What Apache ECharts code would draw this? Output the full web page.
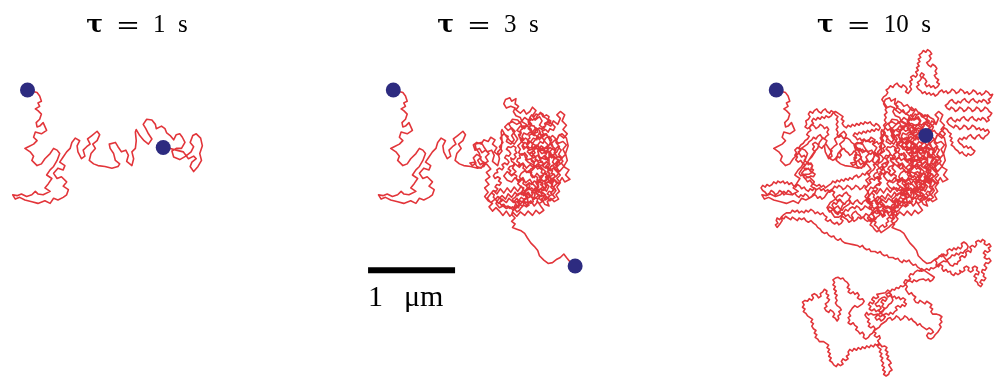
<!DOCTYPE html>
<html>
<head>
<meta charset="utf-8">
<script src="https://cdn.jsdelivr.net/npm/echarts@6/dist/echarts.min.js"></script>
<style>html,body{margin:0;background:#fff}#chart{width:996px;height:382px}</style>
</head>
<body>
<div id="chart"></div>
<script>
// particle position in µm relative to its starting point (y grows downwards)
// 0 - 1 s
const seg1 = [[0.00,0.00],[0.11,0.03],[0.14,0.07],[0.16,0.13],[0.12,0.15],[0.14,0.19],[0.09,0.22],[0.12,0.24],[0.16,0.28],[0.14,0.34],[0.10,0.38],[0.11,0.43],[0.14,0.42],[0.18,0.38],[0.22,0.47],[0.16,0.51],[0.09,0.49],[0.07,0.55],[0.11,0.59],[0.07,0.63],[0.01,0.66],[-0.03,0.68],[0.03,0.72],[0.07,0.77],[0.05,0.82],[0.11,0.88],[0.16,0.86],[0.20,0.80],[0.26,0.74],[0.30,0.68],[0.34,0.70],[0.37,0.74],[0.34,0.82],[0.30,0.89],[0.26,0.93],[0.22,0.99],[0.28,1.03],[0.24,1.09],[0.20,1.14],[0.26,1.18],[0.18,1.22],[0.12,1.21],[0.09,1.18],[0.05,1.22],[-0.01,1.24],[-0.07,1.21],[-0.12,1.23],[-0.17,1.22],[-0.14,1.27],[-0.09,1.25],[-0.03,1.28],[0.05,1.30],[0.12,1.32],[0.20,1.29],[0.26,1.32],[0.30,1.26],[0.35,1.28],[0.41,1.25],[0.45,1.22],[0.47,1.16],[0.41,1.12],[0.45,1.07],[0.39,1.01],[0.34,1.03],[0.30,0.97],[0.35,0.91],[0.41,0.93],[0.43,0.88],[0.37,0.84],[0.41,0.78],[0.45,0.72],[0.49,0.68],[0.51,0.61],[0.55,0.56],[0.60,0.59],[0.57,0.65],[0.58,0.72],[0.62,0.80],[0.66,0.77],[0.64,0.70],[0.68,0.66],[0.72,0.63],[0.69,0.57],[0.74,0.53],[0.80,0.48],[0.83,0.52],[0.80,0.59],[0.75,0.63],[0.78,0.68],[0.73,0.74],[0.71,0.82],[0.76,0.86],[0.81,0.88],[0.89,0.89],[0.97,0.91],[1.04,0.89],[1.06,0.86],[1.01,0.82],[0.99,0.74],[0.95,0.68],[0.94,0.63],[1.01,0.61],[1.04,0.66],[1.08,0.72],[1.13,0.70],[1.16,0.76],[1.14,0.83],[1.20,0.88],[1.22,0.80],[1.20,0.72],[1.24,0.68],[1.25,0.59],[1.24,0.49],[1.25,0.46],[1.29,0.53],[1.34,0.59],[1.39,0.63],[1.43,0.57],[1.39,0.51],[1.36,0.45],[1.33,0.40],[1.37,0.34],[1.43,0.35],[1.47,0.40],[1.48,0.45],[1.54,0.42],[1.58,0.45],[1.60,0.50],[1.64,0.53],[1.68,0.58],[1.71,0.52],[1.75,0.51],[1.78,0.55],[1.81,0.61],[1.77,0.68],[1.71,0.68],[1.66,0.71],[1.68,0.78],[1.75,0.81],[1.82,0.77],[1.88,0.72],[1.91,0.66],[1.87,0.61],[1.90,0.53],[1.94,0.51],[1.99,0.56],[2.01,0.65],[1.98,0.74],[2.00,0.82],[1.96,0.89],[1.91,0.95],[1.87,0.89],[1.89,0.84],[1.94,0.80],[1.91,0.77],[1.85,0.80],[1.79,0.72],[1.71,0.70],[1.64,0.68],[1.56,0.67]];
// 1 - 3 s
const seg2 = [[1.53,0.63],[1.56,0.59],[1.52,0.56],[1.47,0.60],[1.45,0.54],[1.47,0.50],[1.42,0.47],[1.46,0.42],[1.51,0.45],[1.53,0.40],[1.48,0.37],[1.46,0.32],[1.41,0.30],[1.38,0.25],[1.40,0.21],[1.35,0.19],[1.30,0.21],[1.27,0.16],[1.29,0.11],[1.34,0.09],[1.36,0.13],[1.41,0.10],[1.40,0.16],[1.44,0.19],[1.41,0.23],[1.46,0.27],[1.50,0.23],[1.53,0.28],[1.57,0.25],[1.60,0.20],[1.64,0.24],[1.60,0.30],[1.63,0.35],[1.68,0.31],[1.71,0.36],[1.68,0.41],[1.73,0.45],[1.76,0.39],[1.81,0.42],[1.84,0.36],[1.89,0.40],[1.92,0.33],[1.88,0.29],[1.92,0.25],[1.97,0.29],[1.94,0.36],[1.99,0.41],[1.95,0.46],[2.00,0.51],[1.96,0.56],[1.91,0.52],[1.88,0.58],[1.83,0.53],[1.79,0.57],[1.76,0.51],[1.71,0.55],[1.68,0.50],[1.64,0.57],[1.60,0.62],[1.65,0.66],[1.61,0.71],[1.56,0.74],[1.61,0.79],[1.66,0.76],[1.69,0.81],[1.74,0.76],[1.78,0.80],[1.81,0.74],[1.86,0.78],[1.83,0.84],[1.88,0.89],[1.93,0.85],[1.97,0.90],[2.02,0.93],[1.98,0.99],[2.03,1.04],[1.97,1.07],[1.94,1.02],[1.90,1.09],[1.85,1.04],[1.82,1.11],[1.86,1.15],[1.81,1.20],[1.86,1.25],[1.80,1.29],[1.76,1.24],[1.72,1.30],[1.67,1.26],[1.71,1.21],[1.66,1.17],[1.72,1.13],[1.76,1.18],[1.79,1.12],[1.74,1.07],[1.79,1.02],[1.74,0.97],[1.70,1.03],[1.65,0.97],[1.62,1.02],[1.57,0.96],[1.62,0.91],[1.57,0.87],[1.53,0.91],[1.49,0.85],[1.45,0.90],[1.40,0.86],[1.37,0.91],[1.41,0.95],[1.36,0.99],[1.31,0.95],[1.27,1.00],[1.31,1.05],[1.36,1.07],[1.40,1.02],[1.44,1.07],[1.49,1.02],[1.52,1.08],[1.57,1.04],[1.60,1.09],[1.64,1.13],[1.60,1.18],[1.55,1.13],[1.51,1.18],[1.47,1.12],[1.43,1.18],[1.39,1.13],[1.35,1.19],[1.31,1.14],[1.27,1.20],[1.23,1.15],[1.19,1.21],[1.15,1.17],[1.11,1.22],[1.08,1.26],[1.12,1.31],[1.17,1.27],[1.21,1.32],[1.25,1.27],[1.30,1.31],[1.33,1.26],[1.38,1.31],[1.42,1.26],[1.46,1.33],[1.50,1.28],[1.53,1.34],[1.58,1.29],[1.62,1.35],[1.66,1.30],[1.70,1.36],[1.73,1.40],[1.68,1.44],[1.64,1.40],[1.60,1.46],[1.55,1.41],[1.51,1.46],[1.46,1.42],[1.42,1.47],[1.38,1.43],[1.34,1.47],[1.30,1.41],[1.26,1.46],[1.22,1.41],[1.18,1.37],[1.14,1.41],[1.10,1.36],[1.14,1.32],[1.09,1.29],[1.05,1.24],[1.09,1.19],[1.05,1.14],[1.10,1.10],[1.06,1.05],[1.11,1.01],[1.07,0.96],[1.12,0.92],[1.08,0.87],[1.04,0.84],[1.00,0.87],[0.97,0.82],[1.01,0.78],[0.96,0.75],[0.92,0.79],[0.95,0.85],[0.91,0.88],[0.88,0.85],[0.93,0.84],[0.96,0.89],[1.01,0.91],[1.04,0.86],[1.09,0.83],[1.06,0.78],[1.10,0.74],[1.06,0.70],[1.02,0.73],[0.99,0.68],[0.94,0.70],[0.92,0.64],[0.96,0.61],[1.01,0.63],[1.04,0.58],[1.09,0.60],[1.12,0.55],[1.17,0.58],[1.14,0.63],[1.19,0.67],[1.16,0.72],[1.21,0.76],[1.25,0.71],[1.22,0.66],[1.26,0.61],[1.23,0.56],[1.27,0.51],[1.32,0.54],[1.30,0.60],[1.35,0.63],[1.39,0.58],[1.36,0.53],[1.40,0.48],[1.36,0.44],[1.32,0.47],[1.28,0.43],[1.32,0.39],[1.37,0.37],[1.42,0.40],[1.47,0.37],[1.51,0.32],[1.55,0.35],[1.59,0.40],[1.55,0.45],[1.60,0.49],[1.64,0.44],[1.68,0.47],[1.70,0.53],[1.74,0.60],[1.78,0.64],[1.74,0.68],[1.70,0.65],[1.67,0.70],[1.71,0.74],[1.76,0.71],[1.80,0.67],[1.85,0.70],[1.89,0.66],[1.93,0.70],[1.90,0.75],[1.94,0.79],[1.98,0.75],[1.95,0.69],[1.99,0.64],[1.95,0.60],[1.90,0.62],[1.86,0.58],[1.82,0.62],[1.84,0.67],[1.79,0.73],[1.79,0.85],[1.75,0.89],[1.79,0.94],[1.84,0.91],[1.88,0.95],[1.92,0.99],[1.88,1.03],[1.92,1.08],[1.88,1.13],[1.91,1.18],[1.87,1.22],[1.90,1.27],[1.85,1.30],[1.81,1.26],[1.77,1.30],[1.79,1.35],[1.74,1.33],[1.71,1.27],[1.75,1.22],[1.70,1.18],[1.74,1.14],[1.69,1.10],[1.73,1.06],[1.68,1.04],[1.64,1.08],[1.67,1.13],[1.63,1.19],[1.67,1.23],[1.62,1.27],[1.58,1.23],[1.55,1.19],[1.50,1.23],[1.47,1.19],[1.43,1.23],[1.40,1.19],[1.36,1.25],[1.32,1.21],[1.29,1.27],[1.25,1.23],[1.21,1.27],[1.18,1.32],[1.22,1.37],[1.26,1.35],[1.30,1.38],[1.34,1.36],[1.38,1.40],[1.42,1.37],[1.44,1.33],[1.49,1.35],[1.51,1.30],[1.55,1.31],[1.54,1.26],[1.58,1.24],[1.61,1.27],[1.63,1.22],[1.60,1.18],[1.64,1.16],[1.67,1.19],[1.69,1.15],[1.73,1.17],[1.76,1.13],[1.74,1.09],[1.78,1.07],[1.81,1.09],[1.83,1.05],[1.80,1.01],[1.84,0.98],[1.87,1.01],[1.90,0.97],[1.88,0.93],[1.84,0.91],[1.81,0.94],[1.78,0.90],[1.80,0.86],[1.76,0.84],[1.73,0.87],[1.71,0.83],[1.67,0.85],[1.65,0.81],[1.62,0.84],[1.59,0.81],[1.60,0.76],[1.63,0.73],[1.60,0.69],[1.56,0.70],[1.53,0.66],[1.50,0.69],[1.48,0.65],[1.51,0.61],[1.55,0.63],[1.58,0.60],[1.61,0.56],[1.65,0.58],[1.66,0.54],[1.70,0.56],[1.73,0.52],[1.71,0.48],[1.75,0.46],[1.78,0.49],[1.80,0.45],[1.84,0.47],[1.86,0.43],[1.83,0.40],[1.79,0.37],[1.76,0.33],[1.72,0.31],[1.70,0.27],[1.66,0.29],[1.64,0.33],[1.60,0.35],[1.57,0.32],[1.55,0.37],[1.57,0.41],[1.62,0.42],[1.64,0.47],[1.61,0.51],[1.57,0.49],[1.54,0.52],[1.50,0.50],[1.48,0.54],[1.50,0.58],[1.46,0.62],[1.43,0.65],[1.46,0.69],[1.44,0.73],[1.48,0.76],[1.51,0.73],[1.54,0.77],[1.52,0.81],[1.55,0.84],[1.59,0.86],[1.63,0.88],[1.66,0.92],[1.69,0.89],[1.72,0.92],[1.75,0.95],[1.72,0.99],[1.68,1.01],[1.70,1.06],[1.66,1.08],[1.62,1.06],[1.59,1.10],[1.56,1.08],[1.53,1.12],[1.56,1.16],[1.59,1.14],[1.62,1.17],[1.66,1.21],[1.70,1.24],[1.74,1.22],[1.77,1.26],[1.80,1.23],[1.84,1.21],[1.87,1.17],[1.84,1.13],[1.88,1.09],[1.86,1.06],[1.82,1.03],[1.79,1.06],[1.77,1.02],[1.80,0.98],[1.77,0.95],[1.82,0.88],[1.86,0.86],[1.89,0.82],[1.92,0.86],[1.95,0.83],[1.92,0.79],[1.88,0.77],[1.85,0.73],[1.87,0.69],[1.83,0.66],[1.80,0.62],[1.82,0.58],[1.79,0.54],[1.75,0.56],[1.72,0.62],[1.69,0.60],[1.66,0.64],[1.69,0.69],[1.73,0.70],[1.76,0.74],[1.74,0.78],[1.78,0.82],[1.74,0.85],[1.70,0.88],[1.66,0.86],[1.62,0.90],[1.58,0.92],[1.55,0.96],[1.51,0.94],[1.47,0.97],[1.45,1.01],[1.47,1.05],[1.43,1.09],[1.46,1.12],[1.50,1.14],[1.48,1.18],[1.52,1.21],[1.55,1.25],[1.51,1.28],[1.47,1.25],[1.44,1.29],[1.40,1.31],[1.42,1.35],[1.39,1.39],[1.41,1.36],[1.44,1.37],[1.45,1.34],[1.43,1.31],[1.46,1.29],[1.49,1.31],[1.50,1.27],[1.53,1.26],[1.52,1.23],[1.55,1.21],[1.57,1.24],[1.60,1.22],[1.59,1.19],[1.62,1.16],[1.65,1.18],[1.64,1.14],[1.67,1.12],[1.66,1.09],[1.69,1.07],[1.72,1.09],[1.71,1.12],[1.74,1.14],[1.77,1.11],[1.76,1.08],[1.79,1.06],[1.81,1.09],[1.84,1.07],[1.83,1.03],[1.86,1.01],[1.85,0.98],[1.82,0.97],[1.83,0.94],[1.80,0.92],[1.81,0.89],[1.84,0.88],[1.86,0.91],[1.89,0.89],[1.88,0.86],[1.91,0.84],[1.90,0.81],[1.87,0.80],[1.85,0.77],[1.82,0.79],[1.80,0.76],[1.81,0.73],[1.78,0.71],[1.76,0.74],[1.73,0.73],[1.74,0.70],[1.71,0.68],[1.69,0.71],[1.66,0.69],[1.67,0.66],[1.64,0.64],[1.62,0.67],[1.59,0.66],[1.60,0.63],[1.58,0.60],[1.55,0.61],[1.54,0.58],[1.57,0.56],[1.56,0.53],[1.59,0.51],[1.62,0.53],[1.63,0.50],[1.66,0.49],[1.65,0.46],[1.68,0.44],[1.71,0.46],[1.72,0.43],[1.75,0.42],[1.74,0.39],[1.77,0.37],[1.80,0.39],[1.81,0.36],[1.78,0.34],[1.79,0.31],[1.76,0.29],[1.73,0.31],[1.72,0.28],[1.69,0.26],[1.67,0.29],[1.64,0.28],[1.62,0.31],[1.59,0.29],[1.57,0.32],[1.58,0.35],[1.55,0.37],[1.56,0.40],[1.53,0.42],[1.51,0.40],[1.48,0.42],[1.49,0.45],[1.46,0.47],[1.47,0.50],[1.44,0.52],[1.45,0.55],[1.48,0.57],[1.47,0.60],[1.50,0.62],[1.49,0.65],[1.52,0.67],[1.55,0.66],[1.56,0.69],[1.54,0.72],[1.57,0.74],[1.60,0.73],[1.61,0.76],[1.64,0.78],[1.63,0.81],[1.66,0.83],[1.69,0.81],[1.70,0.84],[1.73,0.86],[1.72,0.89],[1.75,0.91],[1.78,0.89],[1.79,0.92],[1.77,0.95],[1.80,0.97],[1.78,1.00],[1.75,1.01],[1.76,1.04],[1.73,1.06],[1.70,1.04],[1.68,1.07],[1.65,1.05],[1.66,1.02],[1.63,1.00],[1.60,1.02],[1.58,0.99],[1.59,0.96],[1.56,0.94],[1.53,0.96],[1.52,0.93],[1.49,0.91],[1.50,0.88],[1.47,0.86],[1.44,0.88],[1.45,0.85],[1.42,0.83],[1.43,0.80],[1.46,0.79],[1.45,0.76],[1.48,0.74],[1.51,0.76],[1.52,0.79],[1.55,0.81],[1.58,0.80],[1.59,0.83],[1.62,0.85],[1.61,0.88],[1.64,0.90],[1.67,0.88],[1.68,0.91],[1.71,0.93],[1.70,0.96],[1.73,0.98],[1.76,0.97],[1.77,1.00],[1.80,1.02],[1.82,1.05],[1.80,1.08],[1.83,1.10],[1.81,1.13],[1.84,1.16],[1.82,1.19],[1.79,1.18],[1.77,1.21],[1.80,1.23],[1.78,1.26],[1.75,1.28],[1.73,1.25],[1.70,1.27],[1.71,1.30],[1.68,1.32],[1.65,1.30],[1.66,1.27],[1.63,1.25],[1.60,1.27],[1.61,1.30],[1.58,1.32],[1.55,1.30],[1.56,1.34],[1.53,1.36],[1.50,1.34],[1.47,1.37],[1.45,1.40],[1.42,1.42],[1.40,1.39],[1.37,1.36],[1.34,1.38],[1.32,1.35],[1.29,1.36],[1.27,1.33],[1.24,1.34],[1.22,1.31],[1.25,1.29],[1.23,1.26],[1.20,1.24],[1.18,1.27],[1.15,1.25],[1.16,1.22],[1.13,1.20],[1.15,1.17],[1.18,1.18],[1.20,1.15],[1.17,1.13],[1.19,1.10],[1.22,1.11],[1.24,1.08],[1.21,1.06],[1.23,1.03],[1.20,1.01],[1.17,1.03],[1.15,1.00],[1.17,0.97],[1.20,0.96],[1.19,0.93],[1.22,0.91],[1.25,0.93],[1.27,0.90],[1.25,0.87],[1.28,0.85],[1.31,0.87],[1.33,0.84],[1.31,0.81],[1.28,0.79],[1.30,0.76],[1.33,0.77],[1.35,0.74],[1.33,0.71],[1.30,0.69],[1.32,0.66],[1.35,0.67],[1.38,0.65],[1.41,0.67],[1.40,0.70],[1.42,0.73],[1.39,0.75],[1.41,0.78],[1.38,0.81],[1.35,0.79],[1.36,0.83],[1.39,0.85],[1.38,0.88],[1.34,0.89],[1.32,0.92],[1.35,0.94],[1.33,0.97],[1.36,1.00],[1.39,0.98],[1.42,1.00],[1.41,1.03],[1.44,1.05],[1.47,1.03],[1.50,1.06],[1.49,1.09],[1.52,1.11],[1.55,1.09],[1.57,1.12],[1.56,1.15],[1.53,1.17],[1.51,1.20],[1.48,1.22],[1.45,1.20],[1.42,1.22],[1.40,1.25],[1.37,1.27],[1.38,1.30],[1.41,1.32],[1.39,1.36],[1.36,1.45],[1.40,1.49],[1.36,1.53],[1.40,1.56],[1.37,1.60],[1.42,1.62],[1.47,1.64],[1.51,1.67],[1.54,1.72],[1.58,1.78],[1.62,1.82],[1.66,1.87],[1.68,1.93],[1.73,1.98],[1.78,2.02],[1.83,2.01],[1.88,1.97],[1.92,1.95],[1.96,1.91],[1.99,1.95],[2.03,2.00],[2.06,2.04],[2.09,2.05]];
// 3 - 10 s
const seg3 = [[2.11,2.02],[2.14,2.03],[2.15,2.00],[2.18,1.98],[2.17,1.95],[2.20,1.93],[2.23,1.95],[2.25,1.92],[2.24,1.89],[2.27,1.87],[2.30,1.89],[2.31,1.86],[2.29,1.83],[2.32,1.81],[2.35,1.83],[2.37,1.80],[2.36,1.77],[2.39,1.75],[2.42,1.77],[2.44,1.74],[2.47,1.76],[2.46,1.79],[2.49,1.81],[2.52,1.79],[2.54,1.82],[2.51,1.84],[2.53,1.87],[2.50,1.89],[2.47,1.87],[2.45,1.90],[2.48,1.92],[2.46,1.95],[2.49,1.97],[2.52,1.96],[2.54,1.99],[2.51,2.02],[2.48,2.01],[2.46,2.04],[2.49,2.07],[2.47,2.10],[2.44,2.09],[2.43,2.12],[2.46,2.14],[2.45,2.17],[2.48,2.19],[2.46,2.22],[2.43,2.21],[2.41,2.24],[2.44,2.26],[2.42,2.29],[2.39,2.27],[2.38,2.24],[2.35,2.22],[2.37,2.19],[2.34,2.17],[2.36,2.14],[2.39,2.15],[2.40,2.12],[2.37,2.10],[2.38,2.07],[2.35,2.05],[2.32,2.07],[2.33,2.10],[2.30,2.12],[2.27,2.10],[2.28,2.07],[2.25,2.05],[2.22,2.07],[2.23,2.10],[2.20,2.12],[2.17,2.10],[2.18,2.13],[2.15,2.15],[2.12,2.13],[2.10,2.16],[2.07,2.14],[2.06,2.11],[2.03,2.12],[2.01,2.09],[1.98,2.11],[1.96,2.08],[1.97,2.05],[1.94,2.03],[1.92,2.06],[1.89,2.04],[1.90,2.01],[1.88,1.98],[1.91,1.96],[1.93,1.93],[1.96,1.94],[1.98,1.91],[2.01,1.93],[2.03,1.90],[2.02,1.87],[2.05,1.85],[2.08,1.87],[2.10,1.84],[2.13,1.86],[2.15,1.83],[2.18,1.85],[2.20,1.82],[2.19,1.79],[2.22,1.77],[2.25,1.79],[2.27,1.82],[2.26,1.85],[2.23,1.87],[2.21,1.90],[2.18,1.89],[2.16,1.92],[2.13,1.90],[2.11,1.93],[2.08,1.92],[2.06,1.95],[2.03,1.97],[2.01,2.00],[1.98,1.99],[1.95,2.01],[1.92,2.03],[1.89,2.06],[1.86,2.08],[1.83,2.07],[1.81,2.10],[1.78,2.08],[1.75,2.10],[1.72,2.08],[1.70,2.11],[1.67,2.10],[1.64,2.12],[1.62,2.15],[1.59,2.14],[1.57,2.17],[1.59,2.20],[1.56,2.22],[1.53,2.21],[1.51,2.24],[1.53,2.27],[1.50,2.29],[1.47,2.28],[1.45,2.31],[1.42,2.30],[1.40,2.33],[1.37,2.32],[1.35,2.35],[1.32,2.33],[1.29,2.36],[1.27,2.34],[1.24,2.37],[1.22,2.35],[1.19,2.38],[1.21,2.41],[1.18,2.43],[1.15,2.41],[1.13,2.44],[1.16,2.46],[1.14,2.49],[1.11,2.47],[1.09,2.50],[1.12,2.52],[1.10,2.55],[1.13,2.57],[1.16,2.55],[1.18,2.58],[1.21,2.56],[1.23,2.59],[1.26,2.57],[1.28,2.54],[1.25,2.52],[1.27,2.49],[1.24,2.47],[1.26,2.44],[1.29,2.46],[1.31,2.43],[1.28,2.41],[1.25,2.42],[1.22,2.44],[1.20,2.47],[1.17,2.49],[1.19,2.52],[1.22,2.51],[1.24,2.54],[1.21,2.57],[1.24,2.60],[1.27,2.62],[1.30,2.60],[1.33,2.62],[1.35,2.59],[1.38,2.61],[1.40,2.58],[1.43,2.56],[1.41,2.53],[1.44,2.51],[1.47,2.53],[1.49,2.50],[1.52,2.52],[1.54,2.49],[1.51,2.47],[1.53,2.44],[1.50,2.42],[1.47,2.44],[1.45,2.41],[1.42,2.43],[1.40,2.40],[1.37,2.42],[1.35,2.39],[1.32,2.41],[1.30,2.38],[1.33,2.36],[1.36,2.38],[1.38,2.45],[1.36,2.48],[1.33,2.50],[1.31,2.53],[1.28,2.55],[1.26,2.58],[1.23,2.60],[1.20,2.62],[1.17,2.65],[1.19,2.68],[1.22,2.66],[1.24,2.69],[1.27,2.67],[1.29,2.64],[1.26,2.62],[1.23,2.64],[1.20,2.61],[1.18,2.60],[1.15,2.62],[1.12,2.60],[1.09,2.62],[1.07,2.59],[1.05,2.62],[1.07,2.65],[1.10,2.67],[1.08,2.70],[1.11,2.72],[1.09,2.75],[1.12,2.77],[1.15,2.75],[1.17,2.78],[1.15,2.81],[1.18,2.83],[1.16,2.86],[1.19,2.88],[1.22,2.86],[1.23,2.89],[1.20,2.92],[1.22,2.95],[1.19,2.97],[1.21,3.00],[1.24,3.02],[1.22,3.05],[1.25,3.07],[1.23,3.10],[1.26,3.12],[1.24,3.15],[1.27,3.18],[1.25,3.21],[1.28,3.23],[1.26,3.26],[1.29,3.28],[1.27,3.31],[1.30,3.33],[1.33,3.31],[1.34,3.28],[1.37,3.26],[1.35,3.23],[1.33,3.20],[1.36,3.18],[1.34,3.15],[1.31,3.13],[1.33,3.10],[1.30,3.08],[1.32,3.05],[1.29,3.03],[1.31,3.00],[1.28,2.98],[1.25,2.99],[1.23,2.96],[1.20,2.98],[1.17,2.96],[1.15,2.99],[1.12,2.97],[1.10,3.00],[1.07,2.98],[1.05,3.01],[1.02,2.99],[1.00,3.02],[0.97,3.00],[0.95,3.03],[0.92,3.01],[0.90,3.04],[0.87,3.02],[0.85,3.05],[0.86,3.08],[0.83,3.10],[0.85,3.13],[0.82,3.15],[0.79,3.13],[0.77,3.16],[0.79,3.19],[0.76,3.21],[0.73,3.19],[0.71,3.22],[0.68,3.20],[0.66,3.17],[0.63,3.15],[0.65,3.12],[0.62,3.10],[0.64,3.07],[0.61,3.05],[0.63,3.02],[0.60,3.00],[0.62,2.97],[0.59,2.95],[0.56,2.93],[0.54,2.95],[0.51,2.93],[0.49,2.90],[0.46,2.88],[0.48,2.85],[0.45,2.83],[0.47,2.80],[0.44,2.78],[0.42,2.75],[0.44,2.72],[0.41,2.70],[0.43,2.67],[0.40,2.65],[0.37,2.63],[0.35,2.60],[0.32,2.58],[0.34,2.55],[0.31,2.53],[0.33,2.50],[0.31,2.47],[0.34,2.45],[0.37,2.46],[0.39,2.43],[0.42,2.45],[0.44,2.42],[0.42,2.39],[0.45,2.37],[0.48,2.39],[0.50,2.42],[0.53,2.40],[0.52,2.37],[0.55,2.35],[0.57,2.32],[0.60,2.34],[0.59,2.37],[0.62,2.39],[0.60,2.42],[0.63,2.44],[0.61,2.47],[0.58,2.49],[0.60,2.52],[0.57,2.54],[0.59,2.57],[0.62,2.59],[0.64,2.56],[0.67,2.58],[0.69,2.61],[0.67,2.64],[0.70,2.66],[0.72,2.69],[0.74,2.66],[0.73,2.63],[0.76,2.61],[0.74,2.58],[0.77,2.56],[0.75,2.53],[0.72,2.51],[0.70,2.48],[0.72,2.45],[0.70,2.42],[0.72,2.39],[0.69,2.37],[0.71,2.34],[0.68,2.32],[0.70,2.29],[0.67,2.27],[0.69,2.24],[0.67,2.21],[0.70,2.19],[0.73,2.18],[0.76,2.20],[0.79,2.19],[0.81,2.22],[0.84,2.24],[0.86,2.27],[0.84,2.30],[0.87,2.32],[0.85,2.35],[0.88,2.37],[0.91,2.35],[0.93,2.38],[0.96,2.36],[0.98,2.39],[0.96,2.42],[0.99,2.44],[1.02,2.43],[1.04,2.46],[1.02,2.49],[0.99,2.51],[0.96,2.53],[0.93,2.51],[0.90,2.54],[0.88,2.57],[0.86,2.60],[0.88,2.63],[0.85,2.65],[0.87,2.68],[0.85,2.71],[0.88,2.73],[0.91,2.71],[0.93,2.74],[0.96,2.76],[0.94,2.79],[0.97,2.81],[0.99,2.84],[1.02,2.82],[1.04,2.85],[1.03,2.88],[1.06,2.90],[1.09,2.88],[1.11,2.85],[1.14,2.83],[1.16,2.80],[1.19,2.78],[1.22,2.76],[1.24,2.73],[1.27,2.71],[1.30,2.69],[1.32,2.66],[1.35,2.65],[1.37,2.68],[1.40,2.66],[1.42,2.63],[1.45,2.65],[1.47,2.68],[1.50,2.66],[1.52,2.63],[1.55,2.65],[1.57,2.68],[1.60,2.66],[1.62,2.69],[1.65,2.71],[1.67,2.74],[1.70,2.72],[1.72,2.75],[1.75,2.77],[1.78,2.79],[1.81,2.77],[1.84,2.79],[1.86,2.82],[1.83,2.84],[1.80,2.83],[1.78,2.86],[1.80,2.89],[1.83,2.90],[1.86,2.88],[1.88,2.85],[1.91,2.82],[1.93,2.79],[1.95,2.76],[1.93,2.73],[1.96,2.70],[1.94,2.67],[1.96,2.64],[1.93,2.62],[1.90,2.61],[1.88,2.63],[1.85,2.61],[1.83,2.58],[1.85,2.55],[1.82,2.53],[1.84,2.50],[1.81,2.48],[1.78,2.46],[1.76,2.49],[1.73,2.47],[1.70,2.45],[1.68,2.48],[1.65,2.47],[1.63,2.44],[1.65,2.41],[1.62,2.39],[1.60,2.36],[1.57,2.38],[1.55,2.35],[1.53,2.32],[1.55,2.29],[1.53,2.26],[1.55,2.23],[1.58,2.22],[1.61,2.24],[1.63,2.21],[1.66,2.23],[1.69,2.21],[1.71,2.23],[1.74,2.20],[1.77,2.22],[1.80,2.20],[1.82,2.23],[1.85,2.21],[1.87,2.18],[1.84,2.16],[1.81,2.14],[1.78,2.12],[1.75,2.10],[1.72,2.11],[1.70,2.08],[1.67,2.06],[1.65,2.03],[1.62,2.04],[1.59,2.01],[1.57,1.98],[1.54,2.00],[1.51,1.98],[1.49,2.01],[1.46,1.99],[1.44,1.96],[1.41,1.97],[1.38,1.95],[1.36,1.97],[1.33,1.95],[1.31,1.92],[1.28,1.93],[1.25,1.91],[1.23,1.88],[1.20,1.90],[1.17,1.88],[1.15,1.90],[1.12,1.88],[1.10,1.85],[1.07,1.86],[1.04,1.84],[1.02,1.81],[0.99,1.83],[0.96,1.81],[0.94,1.83],[0.91,1.80],[0.89,1.82],[0.86,1.79],[0.84,1.77],[0.81,1.78],[0.78,1.76],[0.76,1.73],[0.73,1.75],[0.70,1.73],[0.68,1.70],[0.65,1.71],[0.62,1.69],[0.60,1.66],[0.57,1.67],[0.54,1.65],[0.52,1.62],[0.49,1.60],[0.47,1.57],[0.44,1.55],[0.41,1.52],[0.38,1.54],[0.35,1.52],[0.33,1.49],[0.30,1.51],[0.27,1.49],[0.25,1.52],[0.22,1.50],[0.19,1.48],[0.17,1.51],[0.14,1.49],[0.11,1.47],[0.09,1.50],[0.06,1.48],[0.04,1.51],[0.01,1.49],[0.00,1.52],[0.02,1.55],[-0.01,1.57],[0.01,1.60],[0.03,1.58],[0.05,1.55],[0.07,1.52],[0.06,1.48],[0.09,1.45],[0.12,1.43],[0.14,1.45],[0.17,1.43],[0.19,1.40],[0.22,1.42],[0.25,1.40],[0.27,1.43],[0.30,1.41],[0.33,1.43],[0.35,1.40],[0.38,1.42],[0.41,1.39],[0.44,1.41],[0.46,1.44],[0.49,1.42],[0.52,1.45],[0.55,1.43],[0.57,1.46],[0.60,1.48],[0.58,1.51],[0.61,1.53],[0.64,1.51],[0.66,1.54],[0.69,1.56],[0.72,1.54],[0.74,1.57],[0.77,1.55],[0.79,1.52],[0.76,1.50],[0.78,1.47],[0.81,1.49],[0.84,1.51],[0.86,1.54],[0.89,1.52],[0.91,1.49],[0.89,1.46],[0.91,1.43],[0.94,1.41],[0.96,1.44],[0.99,1.46],[1.01,1.49],[1.04,1.47],[1.06,1.44],[1.09,1.46],[1.11,1.49],[1.14,1.51],[1.16,1.48],[1.14,1.45],[1.16,1.42],[1.19,1.40],[1.21,1.43],[1.24,1.45],[1.26,1.48],[1.29,1.46],[1.27,1.43],[1.29,1.40],[1.26,1.38],[1.28,1.35],[1.26,1.32],[1.23,1.30],[1.21,1.33],[1.18,1.31],[1.16,1.28],[1.13,1.30],[1.11,1.33],[1.08,1.31],[1.06,1.28],[1.03,1.30],[1.01,1.33],[0.98,1.31],[0.96,1.28],[0.93,1.30],[0.91,1.33],[0.88,1.31],[0.86,1.28],[0.83,1.30],[0.81,1.33],[0.78,1.31],[0.76,1.28],[0.73,1.30],[0.71,1.33],[0.68,1.31],[0.66,1.34],[0.68,1.37],[0.66,1.40],[0.63,1.42],[0.61,1.39],[0.63,1.36],[0.66,1.38],[0.69,1.40],[0.72,1.43],[0.75,1.41],[0.77,1.44],[0.80,1.42],[0.82,1.39],[0.85,1.41],[0.87,1.38],[0.90,1.36],[0.93,1.38],[0.95,1.35],[0.98,1.37],[1.00,1.40],[1.03,1.38],[1.05,1.35],[1.08,1.37],[1.11,1.39],[1.13,1.36],[1.16,1.38],[1.19,1.36],[1.21,1.39],[1.23,1.42],[1.22,1.46],[1.19,1.48],[1.17,1.51],[1.14,1.53],[1.11,1.51],[1.08,1.53],[1.05,1.51],[1.03,1.48],[1.00,1.50],[0.97,1.48],[0.95,1.51],[0.92,1.53],[0.90,1.50],[0.87,1.48],[0.85,1.45],[0.82,1.47],[0.80,1.44],[0.77,1.46],[0.74,1.48],[0.72,1.46],[0.69,1.48],[0.67,1.45],[0.65,1.42],[0.62,1.40],[0.60,1.37],[0.62,1.34],[0.64,1.31],[0.67,1.29],[0.70,1.27],[0.72,1.24],[0.75,1.22],[0.78,1.24],[0.80,1.21],[0.83,1.19],[0.85,1.22],[0.88,1.24],[0.86,1.27],[0.88,1.30],[0.86,1.33],[0.83,1.35],[0.80,1.37],[0.78,1.40],[0.75,1.38],[0.73,1.35],[0.70,1.37],[0.68,1.40],[0.70,1.43],[0.73,1.45],[0.75,1.42],[0.78,1.35],[0.80,1.32],[0.77,1.30],[0.75,1.27],[0.72,1.29],[0.69,1.25],[0.67,1.22],[0.69,1.19],[0.66,1.17],[0.63,1.19],[0.61,1.16],[0.58,1.18],[0.56,1.15],[0.53,1.17],[0.51,1.14],[0.48,1.16],[0.45,1.14],[0.43,1.17],[0.40,1.15],[0.38,1.18],[0.35,1.16],[0.33,1.13],[0.30,1.15],[0.28,1.12],[0.25,1.10],[0.23,1.13],[0.20,1.11],[0.18,1.08],[0.15,1.10],[0.13,1.07],[0.10,1.09],[0.08,1.06],[0.05,1.08],[0.02,1.06],[0.00,1.09],[-0.03,1.07],[-0.05,1.10],[-0.08,1.12],[-0.11,1.10],[-0.13,1.13],[-0.16,1.11],[-0.18,1.14],[-0.16,1.17],[-0.13,1.19],[-0.11,1.22],[-0.08,1.20],[-0.06,1.17],[-0.03,1.19],[-0.01,1.22],[0.02,1.20],[0.04,1.17],[0.07,1.19],[0.09,1.22],[0.12,1.20],[0.14,1.17],[0.17,1.19],[0.19,1.22],[0.22,1.20],[0.24,1.23],[0.27,1.25],[0.29,1.22],[0.32,1.24],[0.34,1.21],[0.37,1.23],[0.39,1.26],[0.42,1.24],[0.44,1.21],[0.47,1.23],[0.49,1.26],[0.52,1.24],[0.54,1.27],[0.57,1.25],[0.59,1.22],[0.61,1.19],[0.64,1.17],[0.67,1.15],[0.69,1.12],[0.72,1.14],[0.74,1.11],[0.77,1.13],[0.79,1.16],[0.82,1.14],[0.84,1.11],[0.87,1.13],[0.89,1.16],[0.92,1.14],[0.94,1.11],[0.97,1.13],[0.99,1.16],[1.02,1.14],[1.04,1.11],[1.07,1.13],[1.09,1.10],[1.12,1.08],[1.10,1.05],[1.13,1.03],[1.16,1.05],[1.18,1.02],[1.21,1.04],[1.23,1.01],[1.21,0.98],[1.24,0.96],[1.27,0.98],[1.29,0.95],[1.27,0.92],[1.25,0.89],[1.22,0.91],[1.20,0.88],[1.17,0.86],[1.19,0.83],[1.22,0.85],[1.25,0.83],[1.27,0.80],[1.25,0.77],[1.22,0.75],[1.25,0.73],[1.28,0.71],[1.26,0.68],[1.29,0.66],[1.27,0.63],[1.24,0.61],[1.21,0.63],[1.19,0.60],[1.16,0.62],[1.14,0.59],[1.11,0.61],[1.09,0.58],[1.06,0.60],[1.04,0.57],[1.01,0.59],[0.99,0.56],[0.96,0.58],[0.94,0.55],[0.91,0.53],[0.93,0.50],[0.96,0.52],[0.98,0.49],[1.01,0.51],[1.03,0.48],[1.06,0.50],[1.08,0.47],[1.11,0.49],[1.13,0.46],[1.16,0.48],[1.18,0.45],[1.21,0.47],[1.23,0.44],[1.21,0.41],[1.18,0.39],[1.16,0.42],[1.13,0.40],[1.11,0.37],[1.08,0.39],[1.05,0.37],[1.03,0.40],[1.00,0.38],[0.98,0.41],[0.95,0.39],[0.93,0.42],[0.90,0.40],[0.88,0.43],[0.85,0.41],[0.83,0.44],[0.80,0.42],[0.78,0.39],[0.80,0.36],[0.77,0.34],[0.79,0.31],[0.76,0.29],[0.73,0.27],[0.70,0.25],[0.67,0.27],[0.65,0.30],[0.62,0.32],[0.59,0.30],[0.57,0.33],[0.54,0.31],[0.52,0.34],[0.49,0.32],[0.47,0.35],[0.44,0.33],[0.42,0.36],[0.44,0.39],[0.41,0.41],[0.39,0.44],[0.41,0.47],[0.38,0.49],[0.36,0.52],[0.39,0.54],[0.37,0.57],[0.34,0.59],[0.32,0.62],[0.29,0.64],[0.27,0.67],[0.29,0.70],[0.26,0.72],[0.28,0.75],[0.30,0.78],[0.33,0.76],[0.35,0.79],[0.33,0.82],[0.36,0.84],[0.38,0.87],[0.41,0.85],[0.43,0.88],[0.41,0.91],[0.44,0.93],[0.42,0.96],[0.39,0.98],[0.37,0.96],[0.34,0.98],[0.32,1.01],[0.35,1.04],[0.37,1.07],[0.40,1.05],[0.42,1.08],[0.45,1.10],[0.48,1.12],[0.51,1.10],[0.53,1.13],[0.56,1.11],[0.58,1.14],[0.60,1.15],[0.62,1.11],[0.65,1.09],[0.67,1.06],[0.70,1.08],[0.72,1.05],[0.75,1.07],[0.77,1.04],[0.80,1.06],[0.82,1.03],[0.85,1.05],[0.87,1.02],[0.90,1.04],[0.92,1.01],[0.95,0.99],[0.97,1.02],[1.00,1.00],[1.02,0.97],[1.05,0.99],[1.07,0.96],[1.10,0.98],[1.12,0.95],[1.15,0.93],[1.17,0.90],[1.15,0.87],[1.18,0.85],[1.20,0.82],[1.22,0.79],[1.19,0.77],[1.17,0.74],[1.14,0.72],[1.12,0.75],[1.09,0.73],[1.07,0.70],[1.04,0.72],[1.02,0.69],[0.99,0.71],[0.97,0.68],[0.94,0.66],[0.92,0.63],[0.89,0.61],[0.87,0.58],[0.84,0.56],[0.82,0.58],[0.79,0.56],[0.77,0.53],[0.74,0.55],[0.72,0.52],[0.73,0.49],[0.71,0.46],[0.73,0.43],[0.71,0.40],[0.73,0.37],[0.71,0.34],[0.73,0.31],[0.70,0.29],[0.68,0.26],[0.65,0.24],[0.63,0.27],[0.60,0.25],[0.58,0.22],[0.55,0.24],[0.53,0.27],[0.50,0.25],[0.48,0.22],[0.45,0.24],[0.43,0.27],[0.40,0.25],[0.38,0.28],[0.40,0.31],[0.38,0.34],[0.35,0.36],[0.36,0.40],[0.34,0.43],[0.37,0.45],[0.40,0.43],[0.42,0.40],[0.45,0.42],[0.47,0.45],[0.50,0.43],[0.52,0.40],[0.55,0.42],[0.57,0.45],[0.60,0.43],[0.62,0.46],[0.60,0.49],[0.62,0.52],[0.59,0.54],[0.57,0.57],[0.54,0.55],[0.52,0.52],[0.49,0.54],[0.47,0.57],[0.44,0.55],[0.42,0.58],[0.39,0.60],[0.37,0.63],[0.34,0.65],[0.31,0.67],[0.28,0.69],[0.25,0.67],[0.22,0.70],[0.24,0.73],[0.22,0.76],[0.25,0.78],[0.23,0.81],[0.26,0.84],[0.29,0.82],[0.31,0.85],[0.34,0.87],[0.32,0.90],[0.35,0.93],[0.38,0.91],[0.40,0.94],[0.43,0.96],[0.46,0.98],[0.44,1.01],[0.41,1.00],[0.38,1.02],[0.35,1.00],[0.32,0.98],[0.29,1.00],[0.27,0.97],[0.29,0.94],[0.31,0.91],[0.34,0.88],[0.37,0.84],[0.39,0.81],[0.42,0.78],[0.44,0.75],[0.46,0.72],[0.43,0.69],[0.45,0.66],[0.43,0.63],[0.46,0.61],[0.49,0.63],[0.51,0.66],[0.54,0.68],[0.56,0.65],[0.59,0.63],[0.61,0.66],[0.63,0.69],[0.66,0.71],[0.64,0.74],[0.62,0.77],[0.64,0.80],[0.67,0.82],[0.70,0.80],[0.72,0.77],[0.75,0.79],[0.77,0.76],[0.75,0.73],[0.77,0.70],[0.80,0.68],[0.82,0.71],[0.85,0.73],[0.87,0.76],[0.90,0.74],[0.92,0.71],[0.95,0.73],[0.93,0.76],[0.95,0.79],[0.92,0.81],[0.94,0.84],[0.97,0.82],[1.00,0.80],[1.02,0.83],[1.05,0.85],[1.07,0.82],[1.10,0.84],[1.13,0.82],[1.17,0.76],[1.20,0.73],[1.22,0.70],[1.25,0.68],[1.23,0.65],[1.25,0.62],[1.27,0.59],[1.25,0.56],[1.27,0.53],[1.29,0.50],[1.27,0.47],[1.29,0.44],[1.27,0.41],[1.30,0.38],[1.28,0.35],[1.30,0.32],[1.28,0.29],[1.31,0.26],[1.29,0.23],[1.31,0.20],[1.29,0.17],[1.27,0.14],[1.25,0.11],[1.27,0.08],[1.30,0.06],[1.32,0.03],[1.30,0.00],[1.33,-0.02],[1.35,-0.05],[1.38,-0.03],[1.40,-0.06],[1.43,-0.08],[1.45,-0.05],[1.48,-0.03],[1.50,-0.06],[1.53,-0.04],[1.55,-0.01],[1.53,0.02],[1.56,0.04],[1.58,0.02],[1.60,-0.01],[1.58,-0.04],[1.60,-0.07],[1.58,-0.10],[1.61,-0.12],[1.59,-0.15],[1.62,-0.17],[1.65,-0.15],[1.67,-0.18],[1.65,-0.21],[1.68,-0.23],[1.66,-0.26],[1.69,-0.28],[1.67,-0.31],[1.70,-0.33],[1.68,-0.36],[1.71,-0.38],[1.69,-0.41],[1.72,-0.43],[1.74,-0.46],[1.77,-0.44],[1.79,-0.47],[1.82,-0.45],[1.84,-0.42],[1.81,-0.40],[1.83,-0.37],[1.81,-0.34],[1.78,-0.32],[1.80,-0.29],[1.83,-0.27],[1.85,-0.30],[1.88,-0.28],[1.90,-0.25],[1.88,-0.22],[1.90,-0.19],[1.87,-0.17],[1.89,-0.14],[1.92,-0.12],[1.90,-0.09],[1.93,-0.07],[1.91,-0.04],[1.88,-0.02],[1.86,-0.05],[1.83,-0.03],[1.81,-0.06],[1.78,-0.04],[1.76,-0.07],[1.78,-0.10],[1.76,-0.13],[1.73,-0.15],[1.75,-0.18],[1.72,-0.20],[1.70,-0.17],[1.72,-0.14],[1.70,-0.11],[1.67,-0.09],[1.69,-0.06],[1.66,-0.04],[1.68,-0.01],[1.71,0.01],[1.73,0.04],[1.76,0.02],[1.78,0.05],[1.81,0.03],[1.83,0.06],[1.86,0.04],[1.88,0.07],[1.91,0.05],[1.93,0.02],[1.96,0.00],[1.98,0.03],[2.01,0.01],[2.03,0.04],[2.06,0.02],[2.08,-0.01],[2.11,0.01],[2.13,0.04],[2.16,0.02],[2.18,-0.01],[2.21,0.01],[2.23,0.04],[2.26,0.02],[2.28,0.05],[2.31,0.03],[2.33,0.00],[2.36,0.02],[2.38,0.05],[2.41,0.03],[2.43,0.06],[2.46,0.04],[2.48,0.01],[2.51,0.03],[2.53,0.06],[2.56,0.05],[2.54,0.09],[2.51,0.11],[2.53,0.14],[2.50,0.16],[2.48,0.13],[2.45,0.11],[2.43,0.14],[2.40,0.12],[2.38,0.15],[2.35,0.13],[2.33,0.10],[2.30,0.12],[2.28,0.15],[2.25,0.13],[2.23,0.10],[2.20,0.12],[2.18,0.15],[2.15,0.13],[2.13,0.16],[2.10,0.14],[2.08,0.11],[2.05,0.13],[2.03,0.16],[2.00,0.18],[2.02,0.21],[2.05,0.23],[2.07,0.20],[2.10,0.22],[2.12,0.25],[2.15,0.23],[2.17,0.20],[2.20,0.22],[2.22,0.25],[2.25,0.23],[2.27,0.20],[2.30,0.22],[2.32,0.25],[2.35,0.23],[2.37,0.20],[2.40,0.22],[2.42,0.25],[2.45,0.23],[2.47,0.20],[2.50,0.22],[2.52,0.25],[2.55,0.27],[2.53,0.30],[2.50,0.32],[2.52,0.35],[2.49,0.37],[2.47,0.34],[2.44,0.32],[2.42,0.35],[2.39,0.33],[2.37,0.36],[2.34,0.34],[2.32,0.31],[2.29,0.33],[2.27,0.36],[2.24,0.34],[2.22,0.31],[2.19,0.33],[2.17,0.36],[2.14,0.34],[2.12,0.37],[2.09,0.35],[2.07,0.32],[2.04,0.34],[2.02,0.37],[2.04,0.40],[2.07,0.42],[2.10,0.44],[2.12,0.41],[2.15,0.43],[2.17,0.46],[2.20,0.44],[2.22,0.41],[2.25,0.43],[2.27,0.46],[2.30,0.44],[2.32,0.41],[2.35,0.43],[2.37,0.46],[2.40,0.44],[2.42,0.47],[2.45,0.45],[2.47,0.48],[2.50,0.46],[2.52,0.49],[2.50,0.52],[2.47,0.54],[2.45,0.57],[2.42,0.55],[2.40,0.52],[2.37,0.54],[2.35,0.57],[2.32,0.55],[2.30,0.52],[2.27,0.54],[2.25,0.57],[2.22,0.55],[2.20,0.58],[2.17,0.56],[2.15,0.59],[2.17,0.62],[2.20,0.64],[2.22,0.67],[2.25,0.65],[2.27,0.68],[2.30,0.66],[2.32,0.69],[2.35,0.71],[2.33,0.74],[2.30,0.76],[2.27,0.74],[2.25,0.77],[2.22,0.75],[2.20,0.72],[2.17,0.74],[2.15,0.71],[2.12,0.69],[2.10,0.66],[2.07,0.64],[2.09,0.61],[2.06,0.59],[2.08,0.56],[2.05,0.54],[2.07,0.51],[2.04,0.49],[2.02,0.46],[1.99,0.44],[1.97,0.47],[1.94,0.49],[1.92,0.52],[1.89,0.50],[1.87,0.47],[1.84,0.49],[1.82,0.52],[1.79,0.50],[1.77,0.47],[1.74,0.49],[1.72,0.46],[1.69,0.48],[1.67,0.51],[1.64,0.53],[1.62,0.56],[1.59,0.54],[1.57,0.57],[1.54,0.55],[1.52,0.58],[1.49,0.56],[1.47,0.59],[1.44,0.61],[1.42,0.64],[1.44,0.67],[1.41,0.69],[1.43,0.72],[1.40,0.74],[1.38,0.77],[1.35,0.75],[1.33,0.78],[1.30,0.80],[1.32,0.83],[1.29,0.85],[1.31,0.88],[1.28,0.90],[1.26,0.93],[1.23,0.95],[1.25,0.98],[1.22,1.00],[1.24,1.03],[1.21,1.05],[1.23,1.08],[1.20,1.10],[1.17,1.12],[1.15,1.15],[1.12,1.13],[1.10,1.16],[1.08,1.19],[1.10,1.22],[1.08,1.25],[1.11,1.27],[1.09,1.30],[1.12,1.32],[1.14,1.35],[1.12,1.38],[1.14,1.41],[1.12,1.44],[1.15,1.46],[1.17,1.49],[1.15,1.52],[1.18,1.54],[1.16,1.57],[1.19,1.59],[1.21,1.62],[1.23,1.59],[1.26,1.57],[1.28,1.60],[1.31,1.58],[1.30,1.55],[1.33,1.53],[1.31,1.50],[1.34,1.48],[1.37,1.50],[1.39,1.47],[1.37,1.44],[1.40,1.42],[1.38,1.39],[1.41,1.41],[1.43,1.44],[1.41,1.47],[1.44,1.50],[1.42,1.53],[1.39,1.55],[1.36,1.57],[1.33,1.60],[1.30,1.62],[1.27,1.64],[1.24,1.66],[1.22,1.63],[1.19,1.65],[1.16,1.62],[1.14,1.59],[1.11,1.57],[1.13,1.54],[1.10,1.52],[1.08,1.49],[1.10,1.46],[1.13,1.44],[1.16,1.42],[1.19,1.44],[1.22,1.42],[1.25,1.40],[1.28,1.42],[1.31,1.40],[1.33,1.43],[1.36,1.41],[1.35,1.37],[1.37,1.34],[1.40,1.32],[1.42,1.29],[1.45,1.27],[1.47,1.24],[1.49,1.21],[1.52,1.19],[1.50,1.16],[1.53,1.14],[1.51,1.11],[1.54,1.09],[1.52,1.06],[1.55,1.04],[1.57,1.01],[1.55,0.98],[1.58,0.96],[1.56,0.93],[1.59,0.91],[1.61,0.88],[1.59,0.85],[1.62,0.83],[1.60,0.80],[1.63,0.78],[1.61,0.75],[1.64,0.73],[1.66,0.70],[1.64,0.67],[1.66,0.64],[1.63,0.62],[1.60,0.60],[1.58,0.62],[1.55,0.58],[1.52,0.62],[1.49,0.59],[1.46,0.56],[1.43,0.52],[1.40,0.55],[1.37,0.51],[1.40,0.47],[1.44,0.45],[1.47,0.48],[1.50,0.45],[1.53,0.48],[1.57,0.46],[1.60,0.43],[1.63,0.46],[1.66,0.42],[1.69,0.39],[1.72,0.41],[1.75,0.38],[1.78,0.41],[1.82,0.44],[1.85,0.41],[1.88,0.38],[1.86,0.34],[1.82,0.32],[1.79,0.29],[1.75,0.31],[1.72,0.28],[1.68,0.26],[1.65,0.22],[1.61,0.24],[1.58,0.21],[1.55,0.17],[1.51,0.19],[1.48,0.15],[1.44,0.13],[1.41,0.17],[1.44,0.21],[1.48,0.24],[1.52,0.27],[1.56,0.29],[1.59,0.33],[1.63,0.35],[1.67,0.33],[1.70,0.36],[1.68,0.40],[1.64,0.41],[1.60,0.39],[1.56,0.41],[1.52,0.38],[1.48,0.36],[1.44,0.38],[1.41,0.41],[1.38,0.44],[1.35,0.47],[1.38,0.53],[1.42,0.60],[1.45,0.64],[1.49,0.67],[1.53,0.70],[1.57,0.67],[1.60,0.71],[1.64,0.74],[1.68,0.72],[1.71,0.75],[1.75,0.78],[1.72,0.82],[1.68,0.80],[1.64,0.83],[1.60,0.80],[1.56,0.83],[1.52,0.79],[1.48,0.82],[1.45,0.78],[1.41,0.81],[1.38,0.78],[1.35,0.82],[1.39,0.86],[1.43,0.88],[1.47,0.92],[1.51,0.89],[1.55,0.92],[1.59,0.95],[1.63,0.97],[1.67,0.95],[1.70,0.98],[1.66,1.02],[1.62,1.05],[1.58,1.03],[1.54,1.06],[1.50,1.04],[1.46,1.07],[1.42,1.05],[1.38,1.08],[1.34,1.05],[1.31,1.09],[1.34,1.13],[1.38,1.16],[1.42,1.14],[1.46,1.17],[1.50,1.15],[1.54,1.18],[1.58,1.16],[1.62,1.19],[1.66,1.17],[1.69,1.13],[1.73,1.10],[1.76,1.06],[1.80,1.03],[1.83,0.99],[1.80,0.95],[1.84,0.91],[1.80,0.88],[1.84,0.84],[1.87,0.80],[1.84,0.76],[1.88,0.72],[1.85,0.68],[1.81,0.70],[1.78,0.67],[1.74,0.69],[1.70,0.66],[1.74,0.62],[1.78,0.58],[1.74,0.54],[1.77,0.53]];

const lagTimes = ["1", "3", "10"];
const scaleBar = [[-0.29, 2.1], [0.71, 2.1]];
const scaleLabel = "1\u2002\u2009μm";

// layout
const PX_PER_UM = 87;
const startX = [27.5, 393.3, 777];
const startY = 90.7;
const titleX = [137, 488, 874];
const xRange = [-0.3, 2.6];
const yRange = [-0.6, 3.4];
const RED = "#e2353a";
const NAVY = "#2d2b80";
const SERIF = '"Liberation Serif", "Times New Roman", serif';

const tracks = [seg1, seg1.concat(seg2), seg1.concat(seg2, seg3)];

const chart = echarts.init(document.getElementById("chart"));

const series = [];
tracks.forEach((track, i) => {
	series.push({
		type: "line",
		xAxisIndex: i,
		yAxisIndex: i,
		data: track,
		symbol: "none",
		lineStyle: { color: RED, width: 1.6, join: "round" },
		silent: true,
		z: 2,
	});
	series.push({
		type: "scatter",
		xAxisIndex: i,
		yAxisIndex: i,
		data: [track[0], track[track.length - 1]],
		symbolSize: 15,
		itemStyle: { color: NAVY, opacity: 1 },
		silent: true,
		z: 3,
	});
});
series.push({
	type: "line",
	xAxisIndex: 1,
	yAxisIndex: 1,
	data: scaleBar,
	symbol: "none",
	lineStyle: { color: "#000", width: 6, cap: "butt" },
	silent: true,
	z: 4,
});

chart.setOption({
	animation: false,
	grid: tracks.map((_, i) => ({
		show: false,
		left: startX[i] + xRange[0] * PX_PER_UM,
		top: startY + yRange[0] * PX_PER_UM,
		width: (xRange[1] - xRange[0]) * PX_PER_UM,
		height: (yRange[1] - yRange[0]) * PX_PER_UM,
	})),
	xAxis: tracks.map((_, i) => ({
		type: "value",
		gridIndex: i,
		min: xRange[0],
		max: xRange[1],
		show: false,
	})),
	yAxis: tracks.map((_, i) => ({
		type: "value",
		gridIndex: i,
		min: yRange[0],
		max: yRange[1],
		inverse: true,
		show: false,
	})),
	series,
	graphic: [
		...lagTimes.map((t, i) => ({
			type: "text",
			x: titleX[i],
			y: 25,
			style: {
				text: "{t|τ}\u2002{e|＝}\u2002" + t + "\u2002s",
				fontFamily: SERIF,
				fontSize: 25,
				fill: "#000",
				textAlign: "center",
				textVerticalAlign: "middle",
				rich: {
					t: { fontFamily: '"DejaVu Serif"', fontSize: 25, fontWeight: "bold", fill: "#000" },
					e: { fontFamily: '"Noto Sans CJK JP"', fontSize: 25, fill: "#000" },
				},
			},
		})),
		{
			type: "text",
			x: 368,
			y: 298,
			style: {
				text: scaleLabel,
				fontFamily: SERIF,
				fontSize: 30,
				fill: "#000",
				textAlign: "left",
				textVerticalAlign: "middle",
			},
		},
	],
});
</script>
</body>
</html>
